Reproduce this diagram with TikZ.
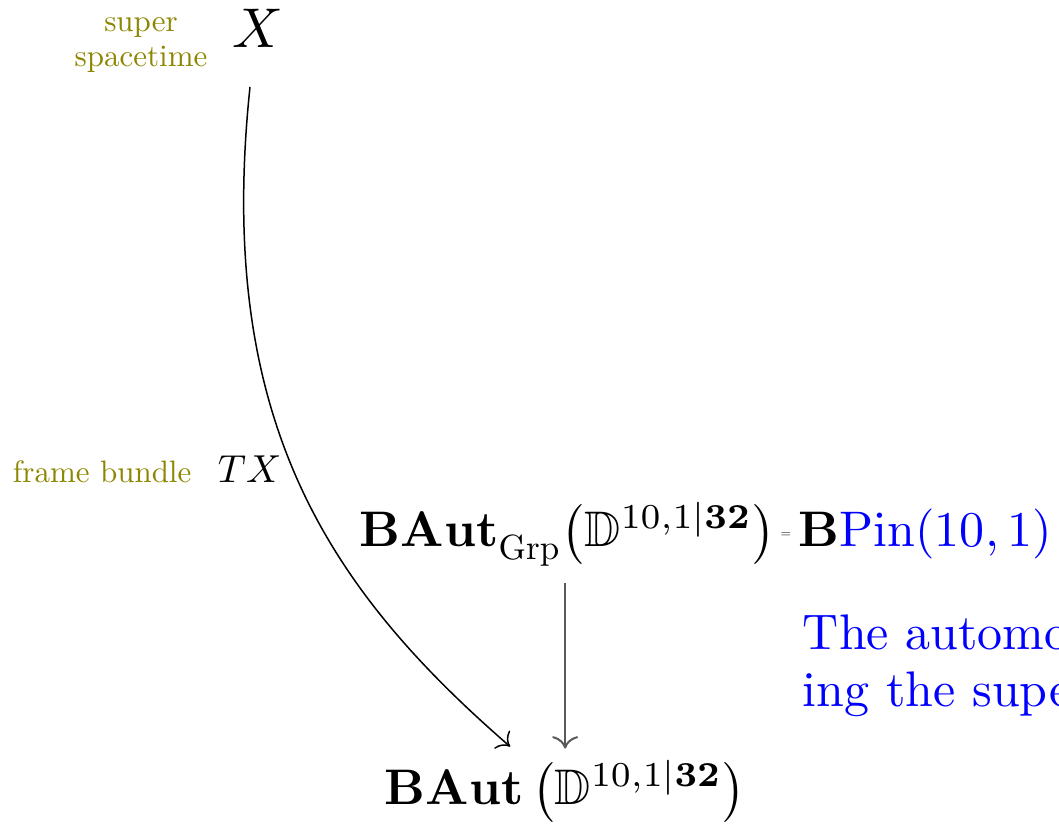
\documentclass[tikz,border=0pt]{standalone}
\usepackage{amsmath,amssymb,graphicx}
\usetikzlibrary{arrows.meta,calc}
\newcommand\mysub[1]{_{\raisebox{-1pt}{\scalebox{0.7}{$#1$}}}}
\begin{document}
\begin{tikzpicture}[x=0.2pt,y=-0.2pt,
  every node/.style={inner sep=0pt, outer sep=0pt},
  lbl/.style={text=olive, font=\fontsize{10}{11.3}\selectfont, scale=0.62, transform shape},
  arr/.style={-{To}, line width=0.3pt}]
\useasboundingbox (0,0) rectangle (1059,826);
\node[anchor=base, scale=1.12, transform shape] (X) at (258,48) {$X$};
\node[lbl, align=center, anchor=base] (sst) at (141,67) {super\\spacetime};
\node[lbl, anchor=base west] (fb) at (13,483) {frame bundle};
\node[anchor=base west, scale=0.78, transform shape] (TX) at (218,483) {$TX$};
\node[anchor=base west] (B1) at (360,547) {$\mathbf{BAut}\mysub{\mathrm{Grp}}\big(\mathbb{D}^{10,1\vert\mathbf{32}}\big)$};
\node[scale=0.27, transform shape, text=black!90] (eq) at (786,535.5) {=};
\node[anchor=base west] (BP) at (799,547) {$\mathbf{B}\textcolor{blue}{\mathrm{Pin}(10,1)}$};
\node[anchor=base west, align=left, text=blue, font=\fontsize{10}{11.4}\selectfont] (txt) at (803,707) {The automo\\ing the supe};
\node[anchor=base west] (B2) at (385,805) {$\mathbf{BAut}\,\big(\mathbb{D}^{10,1\vert\mathbf{32}}\big)$};
\draw[arr] ($(X.south)+(-8,39)$) .. controls +(-35,333) and +(-182,-158) .. ($(B2.north)+(-55,-14)$);
\path ($(B1.south -| B2.north)+(0,17)$) coordinate (vs);
\draw[arr, line width=0.4pt, draw=black!65] (vs) -- ($(vs |- B2.north)+(0,-12)$);
\end{tikzpicture}
\end{document}
